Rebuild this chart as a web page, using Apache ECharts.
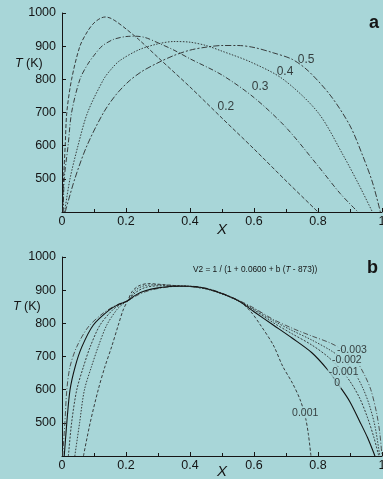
<!DOCTYPE html>
<html>
<head>
<meta charset="utf-8">
<script src="https://cdn.jsdelivr.net/npm/echarts@6/dist/echarts.min.js"></script>
<style>
  html, body { margin: 0; padding: 0; background: #a8d6d8; }
  #chart { width: 383px; height: 479px; }
</style>
</head>
<body>
<div id="chart"></div>
<script>
// panel a: solvus curves, [X, T(K)]
const curveA02 = [[0.002,400],[0.005,500],[0.01,600],[0.015,700],[0.03,800],[0.056,900],[0.08,945],[0.1,970],[0.12,984],[0.135,988],[0.15,985],[0.17,974],[0.2,952],[0.24,920],[0.3,866],[0.4,777],[0.5,683],[0.6,590],[0.7,494],[0.8,400]]
const curveA03 = [[0.004,400],[0.007,500],[0.019,600],[0.03,700],[0.056,800],[0.08,845],[0.1,872],[0.125,900],[0.16,920],[0.2,929],[0.23,930],[0.26,926],[0.3,910],[0.35,888],[0.4,862],[0.5,813],[0.6,745],[0.7,655],[0.8,539],[0.87,455],[0.925,400]]
const curveA04 = [[0.008,400],[0.025,500],[0.05,600],[0.08,700],[0.13,800],[0.155,832],[0.18,856],[0.24,889],[0.3,907],[0.35,914],[0.4,912],[0.45,902],[0.5,885],[0.59,852],[0.69,801],[0.8,700],[0.88,569],[0.93,478],[0.97,400]]
const curveA05 = [[0.01,400],[0.04,500],[0.078,600],[0.13,700],[0.17,755],[0.21,795],[0.25,824],[0.3,850],[0.35,872],[0.4,888],[0.45,897],[0.5,902],[0.55,902],[0.6,896],[0.66,880],[0.72,860],[0.77,825],[0.84,750],[0.9,660],[0.94,569],[0.97,490],[0.995,400]]
const labelsA = [['0.2',0.512,717],['0.3',0.619,777],['0.4',0.697,822],['0.5',0.763,858]]

// panel b: curves for b values
const curveBm3 = [[0.002,400],[0.009,500],[0.015,599],[0.025,669],[0.046,729],[0.082,789],[0.129,831],[0.17,855],[0.205,868],[0.23,882],[0.26,895],[0.3,905],[0.35,911],[0.4,912],[0.45,906],[0.5,891],[0.555,868],[0.6,846],[0.66,812],[0.72,785],[0.78,762],[0.84,740],[0.88,718],[0.92,685],[0.945,645],[0.965,600],[0.983,530],[0.993,470],[1.0,400]]
const curveBm2 = [[0.04,400],[0.055,500],[0.07,599],[0.092,669],[0.113,729],[0.14,795],[0.172,842],[0.19,858],[0.205,868],[0.23,900],[0.26,914],[0.3,916],[0.35,914],[0.4,911],[0.45,904],[0.5,889],[0.555,866],[0.6,843],[0.66,808],[0.72,778],[0.78,750],[0.84,718],[0.88,690],[0.915,650],[0.94,605],[0.96,555],[0.978,490],[0.993,400]]
const curveBm1 = [[0.02,400],[0.03,500],[0.046,599],[0.067,669],[0.088,729],[0.119,795],[0.16,842],[0.185,858],[0.205,868],[0.23,893],[0.26,908],[0.3,913],[0.35,913],[0.4,911],[0.45,904],[0.5,889],[0.555,866],[0.6,840],[0.66,802],[0.72,768],[0.78,735],[0.83,700],[0.87,662],[0.9,625],[0.93,575],[0.955,515],[0.975,455],[0.99,400]]
const curveB0 = [[0.007,400],[0.015,500],[0.025,599],[0.041,669],[0.062,729],[0.098,795],[0.15,842],[0.18,858],[0.205,868],[0.23,885],[0.26,898],[0.3,907],[0.35,912],[0.4,912],[0.45,905],[0.5,890],[0.555,866],[0.6,835],[0.66,795],[0.72,755],[0.78,712],[0.83,660],[0.875,600],[0.9,563],[0.93,505],[0.955,455],[0.978,400]]
const curveBp1 = [[0.067,400],[0.088,500],[0.113,599],[0.134,669],[0.155,729],[0.176,795],[0.191,840],[0.205,868],[0.22,897],[0.24,913],[0.27,920],[0.3,918],[0.35,914],[0.4,911],[0.45,904],[0.5,889],[0.555,866],[0.59,835],[0.62,795],[0.66,735],[0.69,670],[0.72,620],[0.744,570],[0.76,520],[0.77,465],[0.778,400]]
const labelsB = [['-0.003',0.906,720],['-0.002',0.89,689],['-0.001',0.88,653],['0',0.86,620],['0.001',0.76,530]]

const xTicks = { min: 0, max: 1, interval: 0.2 }
const yTicks = { min: 400, max: 1000, interval: 100 }

const bg = '#a8d6d8'
const ink = '#151515'
const font = 'Liberation Sans, Arial, sans-serif'

const chart = echarts.init(document.getElementById('chart'))

function xAxisFor(gridIndex, gap) {
  return {
    gridIndex: gridIndex,
    type: 'value',
    min: xTicks.min, max: xTicks.max, interval: xTicks.interval,
    name: 'X',
    nameLocation: 'middle',
    nameGap: gap,
    nameMoveOverlap: false,
    nameTextStyle: { fontStyle: 'italic', fontSize: 15, color: ink, fontFamily: font },
    axisLine: { lineStyle: { color: ink, width: 1 } },
    axisTick: { inside: true, length: 4, lineStyle: { color: ink } },
    minorTick: { show: true, splitNumber: 2, length: 3, lineStyle: { color: ink } },
    axisLabel: { fontSize: 12.5, color: ink, fontFamily: font, margin: 3, showMaxLabel: true, formatter: v => String(v) },
    splitLine: { show: false }
  }
}

function yAxisFor(gridIndex) {
  return {
    gridIndex: gridIndex,
    type: 'value',
    min: yTicks.min, max: yTicks.max, interval: yTicks.interval,
    axisLine: { show: true, lineStyle: { color: ink, width: 1 } },
    axisTick: { show: true, inside: true, length: 4, lineStyle: { color: ink } },
    axisLabel: { fontSize: 12.5, color: ink, fontFamily: font, margin: 6, showMinLabel: false, formatter: v => String(v) },
    splitLine: { show: false }
  }
}

function curve(data, axis, dash, color, width) {
  return {
    type: 'line',
    xAxisIndex: axis, yAxisIndex: axis,
    data: data,
    showSymbol: false,
    smooth: 0.3,
    lineStyle: { color: color || '#2b2b2b', width: width || 0.9, type: dash },
    z: 2
  }
}

function labelSeries(list, axis, size, withBg) {
  return {
    type: 'scatter',
    xAxisIndex: axis, yAxisIndex: axis,
    symbolSize: 1,
    itemStyle: { color: 'rgba(0,0,0,0)' },
    data: list.map(l => ({ name: l[0], value: [l[1], l[2]] })),
    label: {
      show: true,
      position: 'inside',
      formatter: '{b}',
      fontSize: size,
      color: ink,
      fontFamily: font,
      backgroundColor: withBg ? bg : 'transparent',
      padding: withBg ? [0, 1] : 0
    },
    z: 5
  }
}

chart.setOption({
  backgroundColor: bg,
  animation: false,
  grid: [
    { left: 62, right: 1, top: 13, height: 199, containLabel: false, outerBoundsMode: 'none' },
    { left: 62, right: 1, top: 257, height: 199, containLabel: false, outerBoundsMode: 'none' }
  ],
  xAxis: [xAxisFor(0, 10), xAxisFor(1, 8)],
  yAxis: [yAxisFor(0), yAxisFor(1)],
  graphic: [
    { type: 'text', left: 15, top: 57, style: { text: '{i|T} (K)', rich: { i: { fontStyle: 'italic', fontSize: 12.5, fontFamily: font, fill: ink } }, fontSize: 12.5, fontFamily: font, fill: ink } },
    { type: 'text', left: 13, top: 300, style: { text: '{i|T} (K)', rich: { i: { fontStyle: 'italic', fontSize: 12.5, fontFamily: font, fill: ink } }, fontSize: 12.5, fontFamily: font, fill: ink } },
    { type: 'text', left: 369, top: 14, style: { text: 'a', fontSize: 18, fontWeight: 'bold', fontFamily: font, fill: ink } },
    { type: 'text', left: 367, top: 259, style: { text: 'b', fontSize: 18, fontWeight: 'bold', fontFamily: font, fill: ink } },
    { type: 'text', left: 193, top: 266, style: { text: 'V2 = 1 / (1 + 0.0600 + b ({i|T} - 873))', rich: { i: { fontStyle: 'italic', fontSize: 8.3, fontFamily: font, fill: ink } }, fontSize: 8.3, fontFamily: font, fill: ink } }
  ],
  series: [
    curve(curveA02, 0, [4, 2]),
    curve(curveA03, 0, [5, 2, 1, 2]),
    curve(curveA04, 0, [1.5, 1.5]),
    curve(curveA05, 0, [6, 2, 2, 2]),
    labelSeries(labelsA, 0, 12, false),
    curve(curveBm3, 1, [5, 2, 1, 2], '#444'),
    curve(curveBm2, 1, [1.5, 1.5]),
    curve(curveBm1, 1, [2, 1.5]),
    curve(curveB0, 1, 'solid', '#111', 1.1),
    curve(curveBp1, 1, [3, 2]),
    labelSeries(labelsB, 1, 10.5, true)
  ]
})
</script>
</body>
</html>
